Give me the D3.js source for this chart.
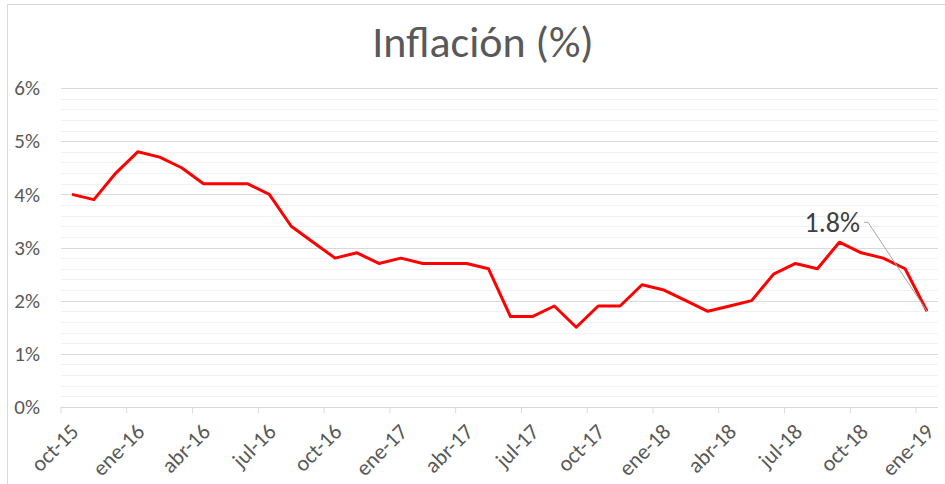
<!DOCTYPE html>
<html>
<head>
<meta charset="utf-8">
<script src="https://cdn.jsdelivr.net/npm/d3@7"></script>
<style>
  body { margin: 0; background: #fff; }
  text { font-family: Calibri, Carlito, Lato, sans-serif; }
</style>
</head>
<body>
<div id="chart"></div>
<script>
// data, one value per month (oct-15 .. ene-19)
const months = ["oct-15","nov-15","dic-15","ene-16","feb-16","mar-16","abr-16","may-16","jun-16","jul-16",
  "ago-16","sep-16","oct-16","nov-16","dic-16","ene-17","feb-17","mar-17","abr-17","may-17",
  "jun-17","jul-17","ago-17","sep-17","oct-17","nov-17","dic-17","ene-18","feb-18","mar-18",
  "abr-18","may-18","jun-18","jul-18","ago-18","sep-18","oct-18","nov-18","dic-18","ene-19"];
const inflation = [4.0,3.9,4.4,4.8,4.7,4.5,4.2,4.2,4.2,4.0,
  3.4,3.1,2.8,2.9,2.7,2.8,2.7,2.7,2.7,2.6,
  1.7,1.7,1.9,1.5,1.9,1.9,2.3,2.2,2.0,1.8,
  1.9,2.0,2.5,2.7,2.6,3.1,2.9,2.8,2.6,1.8];
const yTicks = [0,1,2,3,4,5,6];
const tickEvery = 3; // a label every quarter
const lastLabel = "1.8%";

const W = 945, H = 484;
const margin = {top: 88, right: 7, bottom: 77, left: 61};
const width = W - margin.left - margin.right;
const height = H - margin.top - margin.bottom;
const FONT = "Calibri, Carlito, Lato, sans-serif";

let svg = d3.select("#chart").append("svg")
  .attr("width", W).attr("height", H);

// chart frame
svg.append("rect")
  .attr("x", 7.5).attr("y", 4.5)
  .attr("width", W).attr("height", H)
  .attr("fill", "none").attr("stroke", "#d9d9d9");

svg.append("text")
  .attr("x", 483).attr("y", 57)
  .attr("text-anchor", "middle")
  .style("font-size", "44px")
  .style("fill", "#595959")
  .text("Inflación (%)");

let g = svg.append("g").attr("transform", `translate(${margin.left},${margin.top})`);

let x = d3.scaleBand().domain(months).range([0, width]);
let y = d3.scaleLinear().domain([0, 6]).range([height, 0]);

// minor gridlines every 0.2%
let minor = d3.range(0, 6.001, 0.2).filter(v => Math.abs(v - Math.round(v)) > 0.01);
g.append("g").selectAll("line").data(minor).enter().append("line")
  .attr("x1", 0).attr("x2", width)
  .attr("y1", d => Math.round(y(d)) + 0.5).attr("y2", d => Math.round(y(d)) + 0.5)
  .attr("stroke", "#f2f2f2");

// major gridlines
g.append("g").selectAll("line").data(yTicks.slice(1)).enter().append("line")
  .attr("x1", 0).attr("x2", width)
  .attr("y1", d => Math.round(y(d)) + 0.5).attr("y2", d => Math.round(y(d)) + 0.5)
  .attr("stroke", "#d9d9d9");

// y axis labels
let yAxis = g.append("g").call(d3.axisLeft(y).tickValues(yTicks).tickFormat(d => d + "%").tickSize(0).tickPadding(21));
yAxis.select(".domain").remove();
yAxis.selectAll("text")
  .style("font-size", "21px").style("fill", "#595959")
  .style("font-family", FONT);

// x axis: ticks at the start of each quarter
let tickMonths = months.filter((m, i) => i % tickEvery === 0);
let xAxis = g.append("g").attr("transform", `translate(0,${height})`)
  .call(d3.axisBottom(x).tickValues(tickMonths).tickSize(6).tickPadding(4).tickSizeOuter(0));
xAxis.selectAll(".tick").attr("transform", d => `translate(${x(d)},0)`);
xAxis.select(".domain").attr("stroke", "#d9d9d9").attr("d", `M0,0.5H${width}`);
xAxis.selectAll(".tick line").attr("stroke", "#d9d9d9");
xAxis.selectAll(".tick text")
  .attr("text-anchor", "end")
  .attr("dy", null)
  .attr("transform", "translate(19,26) rotate(-45)")
  .attr("x", 0).attr("y", 0)
  .style("font-size", "22px").style("fill", "#595959")
  .style("font-family", FONT);

// inflation line
let line = d3.line()
  .x((d, i) => x(months[i]) + x.bandwidth() / 2)
  .y(d => y(d));

g.append("path")
  .datum(inflation)
  .attr("d", line)
  .attr("fill", "none")
  .attr("stroke", "#ff0000")
  .attr("stroke-width", 3)
  .attr("stroke-linejoin", "round");

// data label on last point with leader line
let lastI = inflation.length - 1;
let px = x(months[lastI]) + x.bandwidth() / 2;
let py = y(inflation[lastI]);
let lx = px - 59, ly = py - 89;
g.append("path")
  .attr("d", `M${lx - 4},${ly}H${lx}L${px},${py}`)
  .attr("fill", "none")
  .attr("stroke", "#a6a6a6")
  .attr("stroke-width", 1);
g.append("text")
  .attr("x", lx - 8).attr("y", ly + 10)
  .attr("text-anchor", "end")
  .style("font-size", "28px")
  .style("fill", "#404040")
  .text(lastLabel);
</script>
</body>
</html>
